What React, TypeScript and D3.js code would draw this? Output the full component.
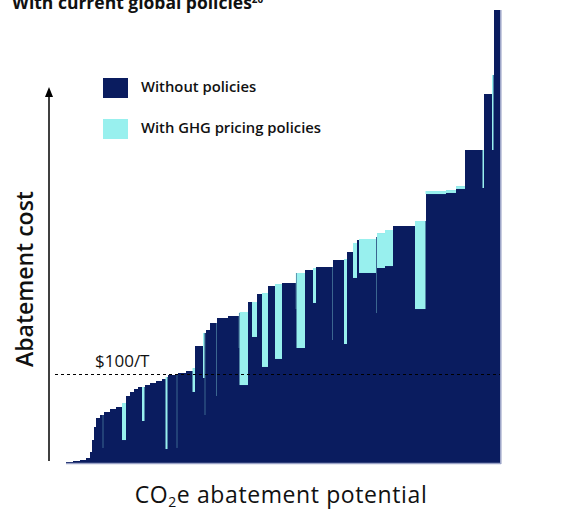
import React from "react";
import * as d3 from "d3";

// Abatement levers, ordered by cost (marginal abatement cost curve).
// Width = abatement potential (GtCO2e), cost = $/tCO2e without policies,
// pricedCost = remaining cost once GHG pricing policies apply (null = unchanged).
const leverWidth = [
  0.7, 0.7, 0.6, 0.4, 0.2, 0.2, 0.2, 0.4, 0.25, 0.1, 0.65, 0.6, 0.6, 0.4,
  0.4, 0.4, 0.4, 0.4, 0.25, 0.55, 0.6, 0.6, 0.35, 0.2, 0.9, 0.1, 0.85, 0.65,
  0.25, 0.8, 0.15, 0.1, 0.45, 0.6, 0.1, 1.1, 1.05, 0.1, 0.85, 0.4, 0.5, 0.5,
  0.6, 0.7, 0.7, 1.35, 0.1, 0.85, 0.8, 0.3, 1.6, 0.1, 1.1, 0.3, 0.6, 0.4,
  0.2, 1.7, 0.1, 0.8, 0.8, 2.2, 1.05, 2.05, 1.0, 0.9, 1.75, 0.15, 0.8, 0.15,
  0.65,
];
const leverCost = [
  0.6, 1.7, 3.4, 5.6, 12.4, 25.8, 40.4, 50.6, 53.9, 53.9, 57.3, 60.7, 62.9,
  67.4, 75.3, 79.8, 83.1, 85.4, 85.4, 87.6, 89.9, 92.1, 94.4, 96.6, 98.9,
  98.9, 101.1, 103.4, 106.7, 131.5, 146.1, 146.1, 149.4, 157.3, 157.3, 162.9,
  165.2, 168.5, 169.7, 180.9, 180.9, 189.9, 191.0, 198.9, 201.1, 202.2,
  213.5, 213.5, 216.9, 219.1, 220.2, 220.2, 228.1, 229.2, 237.1, 247.2,
  250.6, 251.7, 253.9, 258.4, 261.8, 266.3, 271.9, 305.6, 306.7, 311.2,
  351.7, 351.7, 414.6, 436.0, 509.0,
];
const pricedCost: (number | null)[] = [
  null, null, null, null, null, null, null, null, null, 16.9, null, null,
  null, 25.8, null, null, null, null, 47.2, null, null, null, null, 15.7,
  null, 16.9, null, null, 79.8, null, 95.5, 53.9, null, null, 75.3, null,
  null, 129.2, 87.6, null, 141.6, null, 107.9, null, 116.9, null, 173.0,
  129.2, null, 179.8, null, 138.2, null, 133.7, null, 207.9, null, 213.5,
  168.5, 219.1, 221.3, null, 173.0, 302.2, 303.4, 307.9, null, 309.0, null,
  351.7, null,
];

const priceLevel = 100; // $/tCO2e reference line
const priceLabel = "$100/T";
const seriesNames = ["Without policies", "With GHG pricing policies"];

const NAVY = "#0A1C5F";
const CYAN = "#98F0EE";
const FONT = "'Open Sans', 'Noto Sans', sans-serif";

export default function App() {
  const totalPotential = d3.sum(leverWidth);
  const x = d3.scaleLinear().domain([0, totalPotential]).range([66, 500]);
  const y = d3.scaleLinear().domain([0, 100]).range([463, 374]);

  const starts = d3.cumsum([0, ...leverWidth]);
  const levers = leverWidth.map((w, i) => ({
    x0: starts[i],
    x1: starts[i] + w,
    cost: leverCost[i],
    priced: pricedCost[i],
  }));

  return (
    <svg
      width={575}
      height={511}
      style={{ position: "absolute", left: 0, top: 0, background: "#fff" }}
      fontFamily={FONT}
    >
      <text x={12} y={9} fontSize={17.5} fontWeight={700} fill="#111">
        With current global policies
        <tspan fontSize={10} dy={-6}>
          20
        </tspan>
      </text>

      {/* cost bars */}
      <g shapeRendering="crispEdges">
        {levers.map((d, i) => (
          <rect
            key={"n" + i}
            x={x(d.x0)}
            y={y(d.cost)}
            width={x(d.x1) - x(d.x0) + 0.4}
            height={y(0) - y(d.cost)}
            fill={NAVY}
          />
        ))}
      </g>
      <g>
        {levers
          .filter((d) => d.priced !== null)
          .map((d, i) => {
            const w = x(d.x1) - x(d.x0);
            return (
              <rect
                key={"c" + i}
                x={x(d.x0)}
                y={y(d.cost)}
                width={w}
                height={y(d.priced as number) - y(d.cost)}
                fill={CYAN}
                fillOpacity={w < 1.25 ? 0.35 : 1}
              />
            );
          })}
      </g>

      {/* frame edges */}
      <line x1={x(0)} x2={x(totalPotential) + 1} y1={463.5} y2={463.5} stroke="#9aa2c6" strokeWidth={1.5} />
      <line
        x1={x(totalPotential) + 0.8}
        x2={x(totalPotential) + 0.8}
        y1={y(leverCost[leverCost.length - 1])}
        y2={464}
        stroke="#9aa2c6"
        strokeWidth={1.5}
      />

      {/* reference price */}
      <line
        x1={55}
        x2={x(totalPotential)}
        y1={y(priceLevel) + 0.5}
        y2={y(priceLevel) + 0.5}
        stroke="#000"
        strokeWidth={1}
        strokeDasharray="3,3"
      />
      <text x={95} y={y(priceLevel) - 7} fontSize={17} fill="#111">
        {priceLabel}
      </text>

      {/* y axis arrow */}
      <line x1={49} x2={49} y1={461} y2={96} stroke="#000" strokeWidth={1.5} />
      <path d="M45,97 L49,87 L53,97 Z" fill="#000" />
      <text
        transform="translate(33,279) rotate(-90)"
        textAnchor="middle"
        fontSize={23}
        fontWeight={600}
        fill="#111"
      >
        Abatement cost
      </text>

      <text
        x={281}
        y={503}
        textAnchor="middle"
        fontSize={23}
        fontWeight={500}
        letterSpacing={0.6}
        fill="#111"
      >
        CO<tspan fontSize={14} dy={4}>2</tspan>
        <tspan dy={-4}>e abatement potential</tspan>
      </text>

      {/* legend */}
      {seriesNames.map((name, i) => (
        <g key={name} transform={`translate(103,${78 + i * 41})`}>
          <rect width={25} height={20} fill={i === 0 ? NAVY : CYAN} />
          <text x={38} y={14} fontSize={14.8} fontWeight={600} fill="#111">
            {name}
          </text>
        </g>
      ))}
    </svg>
  );
}
